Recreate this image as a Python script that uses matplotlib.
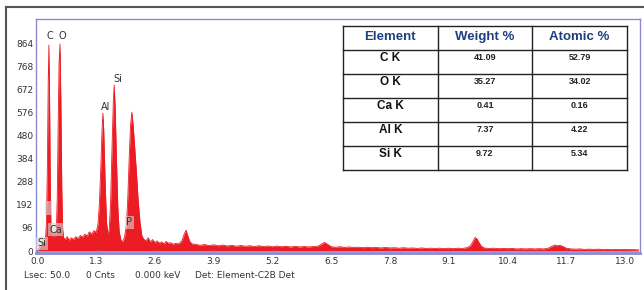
import matplotlib
matplotlib.use('Agg')
import matplotlib.pyplot as plt
from matplotlib.lines import Line2D

# EDS spectrum (keV, counts)
energy_kev = [0.00, 0.03, 0.06, 0.09, 0.12, 0.15, 0.18, 0.20, 0.22, 0.24, 0.255, 0.27, 0.285, 0.30,
              0.32, 0.34, 0.36, 0.38, 0.40, 0.42, 0.44, 0.46, 0.48, 0.50, 0.52, 0.54, 0.56, 0.58,
              0.62, 0.66, 0.70, 0.75, 0.80, 0.85, 0.90, 0.95, 1.00, 1.05, 1.10, 1.15, 1.20, 1.25,
              1.30, 1.34, 1.37, 1.40, 1.43, 1.45, 1.47, 1.50, 1.53, 1.56, 1.59, 1.62, 1.65, 1.68,
              1.70, 1.72, 1.75, 1.78, 1.81, 1.85, 1.89, 1.93, 1.97, 2.00, 2.03, 2.06, 2.09, 2.12,
              2.15, 2.19, 2.23, 2.27, 2.31, 2.35, 2.40, 2.45, 2.50, 2.55, 2.60, 2.65, 2.70, 2.75,
              2.80, 2.85, 2.90, 2.95, 3.00, 3.05, 3.10, 3.15, 3.20, 3.25, 3.29, 3.33, 3.37, 3.42,
              3.5, 3.6, 3.7, 3.8, 3.9, 4.0, 4.1, 4.2, 4.3, 4.4, 4.5, 4.6, 4.7, 4.8, 4.9, 5.0,
              5.1, 5.2, 5.3, 5.4, 5.5, 5.6, 5.7, 5.8, 5.9, 6.0, 6.1, 6.2, 6.3, 6.35, 6.42, 6.5,
              6.6, 6.7, 6.8, 6.9, 7.0, 7.1, 7.2, 7.3, 7.4, 7.5, 7.6, 7.7, 7.8, 7.9, 8.0, 8.1,
              8.2, 8.3, 8.4, 8.5, 8.6, 8.7, 8.8, 8.9, 9.0, 9.1, 9.2, 9.3, 9.4, 9.5, 9.58, 9.63,
              9.68, 9.72, 9.77, 9.82, 9.9, 10.0, 10.1, 10.2, 10.3, 10.4, 10.5, 10.6, 10.7, 10.8,
              10.9, 11.0, 11.1, 11.2, 11.3, 11.38, 11.45, 11.5, 11.55, 11.62, 11.7, 11.8, 11.9,
              12.0, 12.1, 12.2, 12.3, 12.4, 12.5, 12.6, 12.7, 12.8, 12.9, 13.0, 13.1, 13.2, 13.3]
counts = [0, 8, 18, 25, 30, 35, 50, 120, 330, 700, 856, 640, 300, 110,
          60, 75, 55, 80, 60, 90, 220, 520, 780, 860, 620, 260, 90, 55,
          48, 60, 45, 55, 48, 60, 52, 65, 58, 70, 62, 80, 70, 85,
          78, 110, 190, 330, 500, 573, 490, 280, 120, 70, 90, 200, 420, 620,
          690, 600, 380, 180, 80, 45, 38, 60, 110, 220, 380, 520, 577, 520,
          440, 330, 210, 120, 65, 50, 42, 55, 38, 48, 35, 42, 33, 38,
          30, 40, 32, 35, 28, 32, 30, 33, 45, 72, 87, 62, 40, 30,
          28, 24, 27, 23, 26, 22, 25, 21, 24, 20, 23, 20, 22, 19, 22, 19,
          21, 18, 21, 18, 20, 17, 20, 17, 19, 17, 19, 20, 30, 36, 28, 18,
          16, 18, 15, 17, 15, 16, 14, 16, 14, 15, 13, 15, 13, 14, 12, 14,
          12, 13, 11, 13, 11, 12, 11, 12, 10, 12, 10, 12, 11, 14, 22, 38,
          56, 52, 35, 20, 12, 11, 12, 10, 11, 10, 11, 9, 10, 9,
          10, 9, 10, 9, 12, 20, 25, 22, 24, 20, 12, 9, 8,
          9, 7, 8, 7, 8, 6, 7, 6, 7, 6, 7, 6, 6, 5]

x_ticks = [0.0, 1.3, 2.6, 3.9, 5.2, 6.5, 7.8, 9.1, 10.4, 11.7, 13.0]
y_ticks = [0, 96, 192, 288, 384, 480, 576, 672, 768, 864]

peak_names = ['C', 'O', 'Al', 'Si']
peak_pos = [(0.27, 895), (0.55, 895), (1.50, 600), (1.78, 715)]
boxed_names = ['Ca', 'P', 'Si']
boxed_pos = [(0.40, 88), (2.03, 120), (0.10, 33)]

table_cols = ['Element', 'Weight %', 'Atomic %']
elements = ['C K', 'O K', 'Ca K', 'Al K', 'Si K']
weight_pct = ['41.09', '35.27', '0.41', '7.37', '9.72']
atomic_pct = ['52.79', '34.02', '0.16', '4.22', '5.34']

red = '#ec1c24'
axis_blue = '#8a8ad2'

fig = plt.figure(figsize=(6.44, 2.90), dpi=100)
ax = fig.add_axes([36 / 644, 37 / 290, 604 / 644, 234 / 290])

ax.fill_between(energy_kev, counts, 0, color=red, linewidth=0)
ax.plot(energy_kev, counts, color=red, linewidth=0.6)

ax.set_xlim(-0.03, 13.33)
ax.set_ylim(-8, 964)
ax.set_xticks(x_ticks)
ax.set_xticklabels(['%.1f' % v for v in x_ticks])
ax.set_yticks(y_ticks)
ax.tick_params(axis='both', labelsize=6.5, colors='#333333', length=2, direction='in', pad=3)
ax.tick_params(axis='x', color=axis_blue)
ax.tick_params(axis='y', length=0, pad=2)
for side in ['left', 'top', 'right']:
    ax.spines[side].set_color(axis_blue)
    ax.spines[side].set_linewidth(1.0)
ax.spines['bottom'].set_color(axis_blue)
ax.spines['bottom'].set_linewidth(2.0)

for name, (px, py) in zip(peak_names, peak_pos):
    ax.text(px, py, name, fontsize=7, color='#333333', ha='center', va='center')
for name, (px, py) in zip(boxed_names, boxed_pos):
    ax.text(px, py, name, fontsize=7, color='#333333', ha='center', va='center',
            bbox=dict(boxstyle='square,pad=0.15', facecolor='#d8d8d8', edgecolor='none', alpha=0.6))
ax.text(0.22, 170, ' ', fontsize=6,
        bbox=dict(boxstyle='square,pad=0.3', facecolor='#d8d8d8', edgecolor='none', alpha=0.6))

# table with the composition
tax = fig.add_axes([343 / 644, 120 / 290, 284 / 644, 144 / 290])
tax.set_xlim(0, 3)
tax.set_ylim(6, 0)
tax.axis('off')
tax.add_patch(plt.Rectangle((0, 0), 3, 6, facecolor='white', edgecolor='none'))
for i in range(7):
    tax.plot([0, 3], [i, i], color='#222222', linewidth=1.0, clip_on=False)
for j in range(4):
    tax.plot([j, j], [0, 6], color='#222222', linewidth=1.0, clip_on=False)
for j, c in enumerate(table_cols):
    tax.text(j + 0.5, 0.45, c, ha='center', va='center', fontsize=9.5, fontweight='bold',
             color='#1f3f80', family='Liberation Sans')
for i in range(len(elements)):
    tax.text(0.5, i + 1.33, elements[i], ha='center', va='center', fontsize=8.5,
             fontweight='bold', color='#111111', family='Liberation Sans')
    tax.text(1.5, i + 1.3, weight_pct[i], ha='center', va='center', fontsize=6.5,
             fontweight='bold', color='#222222', family='Liberation Sans')
    tax.text(2.5, i + 1.3, atomic_pct[i], ha='center', va='center', fontsize=6.5,
             fontweight='bold', color='#222222', family='Liberation Sans')

# status line under the spectrum
status_y = 14 / 290
fig.text(24 / 644, status_y, 'Lsec: 50.0', fontsize=6.5, color='#333333', va='center')
fig.text(86 / 644, status_y, '0 Cnts', fontsize=6.5, color='#333333', va='center')
fig.text(135 / 644, status_y, '0.000 keV', fontsize=6.5, color='#333333', va='center')
fig.text(195 / 644, status_y, 'Det: Element-C2B Det', fontsize=6.5, color='#333333', va='center')

# outer frame
fig.add_artist(Line2D([6 / 644, 6 / 644], [0, 283 / 290], color='#555555', linewidth=1.5))
fig.add_artist(Line2D([6 / 644, 1], [283 / 290, 283 / 290], color='#555555', linewidth=1.5))

fig.savefig('out.png', dpi=100)
